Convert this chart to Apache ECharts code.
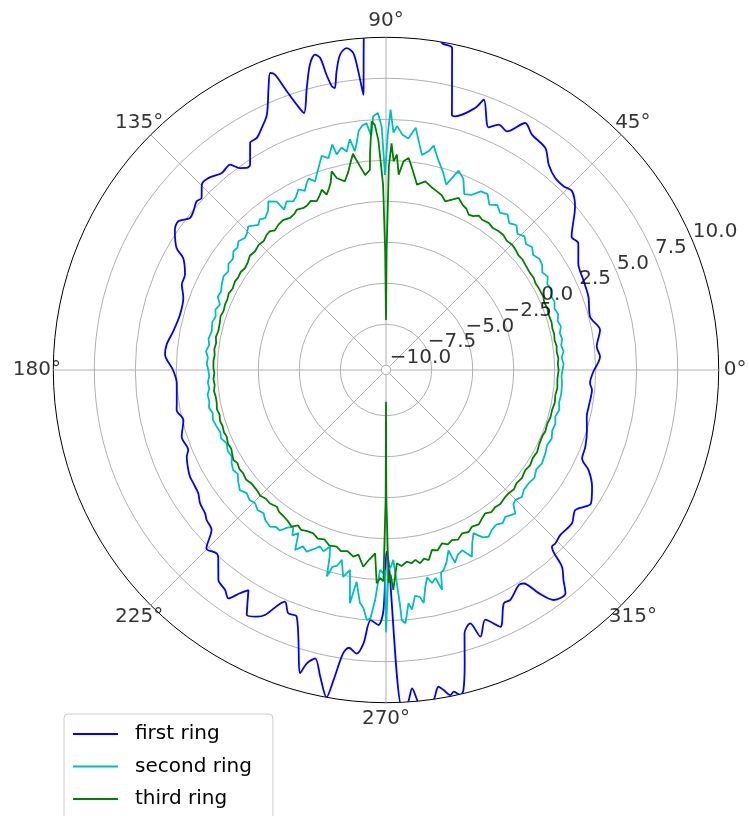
<!DOCTYPE html>
<html>
<head>
<meta charset="utf-8">
<title>Ring gain pattern</title>
<script src="https://cdn.jsdelivr.net/npm/echarts@6/dist/echarts.min.js"></script>
<style>
  html, body { margin: 0; padding: 0; background: #ffffff; }
  #chart { width: 749px; height: 816px; }
</style>
</head>
<body>
<div id="chart"></div>
<script>
// Radial ticks and their printed labels (matplotlib-style unicode minus)
const radialTicks = [-10, -7.5, -5, -2.5, 0, 2.5, 5, 7.5, 10];
const radialTickLabels = ['\u221210.0', '\u22127.5', '\u22125.0', '\u22122.5', '0.0', '2.5', '5.0', '7.5', '10.0'];
const angleTicks = [0, 45, 90, 135, 180, 225, 270, 315];
const angleTickLabels = ['0\u00b0', '45\u00b0', '90\u00b0', '135\u00b0', '180\u00b0', '225\u00b0', '270\u00b0', '315\u00b0'];
const seriesNames = ['first ring', 'second ring', 'third ring'];

// first ring: angle (deg) and level
const firstRingDeg = [0, 3.6, 6.3, 10.6, 14.6, 19.9, 24.5, 29.0, 33.4, 35.7, 40.8, 43.9, 45.9, 48.6, 51.6, 54.3, 58.2, 60.6, 63.1, 65.3,
  67.1, 70.1, 71.2, 74.7, 75.5, 76.5, 77.5, 78.4, 80.3, 82, 86, 90, 93, 93.8, 94.7, 95.3, 95.9, 97.0, 98.3, 99.4,
  100.3, 100.8, 101.4, 101.9, 102.7, 104.0, 105.7, 107.7, 108.6, 109.9, 110.6, 111.3, 112.6, 115.0, 117.2, 119.1, 120.9, 123.5, 124.6, 125.9,
  127.2, 129.8, 132.8, 134.8, 137.0, 138.3, 140.5, 142.2, 144.4, 146.4, 149.8, 151.1, 154.6, 157.3, 160.4, 165.0, 169.7, 173.4, 176.0, 180.0,
  183.6, 189.0, 190.8, 193.9, 198.1, 202.0, 203.5, 206.8, 208.6, 210.5, 213.3, 215.6, 218.4, 219.9, 222.5, 224.8, 227.3, 228.3, 231.4, 232.1,
  233.8, 235.4, 236.8, 238.0, 240.4, 242.3, 243.7, 246.4, 248.1, 250.1, 254.2, 254.9, 256.2, 257.9, 259.7, 260.4, 261.4, 262.4, 264.1, 265.3,
  266.5, 268.3, 269.4, 270.2, 272.7, 273.7, 274.7, 275.6, 276.8, 278.2, 279.4, 280.2, 281.2, 281.9, 282.9, 283.6, 285.0, 286.6, 288.4, 289.5,
  291.7, 294.0, 296.8, 298.4, 301.7, 302.8, 304.4, 306.1, 308.8, 310.2, 311.8, 313.2, 314.3, 316.6, 320.5, 323.5, 326.9, 330.5, 333.7, 335.7,
  338.9, 343.4, 346.9, 349.7, 354.5, 356.3, 360];
const firstRingDb = [2.40, 2.79, 2.64, 2.99, 2.57, 2.84, 2.94, 3.12, 3.76, 3.65, 4.94, 5.45, 5.30, 5.32, 5.69, 6.37, 6.60, 7.00, 6.03, 6.18,
  5.78, 7.24, 6.59, 5.75, 5.77, 6.95, 8.31, 9.76, 9.95, 11.0, 12.5, 13.0, 11.5, 10.1, 6.55, 8.0, 9.15, 9.49, 9.14, 8.17,
  7.19, 7.32, 8.08, 9.16, 9.42, 8.9, 7.57, 6.16, 6.79, 8.11, 8.95, 9.15, 8.35, 6.9, 6.3, 5.91, 5.85, 4.73, 4.68, 4.91,
  5.44, 5.35, 5.66, 5.65, 5.09, 5.18, 4.93, 4.84, 5.29, 5.17, 4.49, 3.84, 3.28, 3.21, 2.83, 2.72, 2.90, 3.18, 3.22, 2.70,
  2.50, 2.63, 2.71, 2.44, 2.82, 2.72, 2.96, 3.22, 3.32, 3.34, 3.41, 3.66, 3.79, 3.97, 4.14, 5.15, 4.93, 5.09, 6.10, 6.20,
  6.33, 6.63, 5.98, 5.54, 6.90, 6.70, 6.38, 5.12, 5.70, 5.71, 8.92, 8.24, 7.82, 8.84, 10.0, 8.88, 7.18, 6.8, 7.1, 6.44,
  4.99, 5.27, 4.35, 0.80, 10.3, 10.1, 9.20, 10.1, 10.4, 10.05, 9.29, 9.54, 9.92, 9.76, 10.04, 9.79, 8.25, 6.47, 6.00, 6.96,
  6.10, 6.85, 5.65, 5.65, 5.12, 5.20, 6.20, 7.07, 7.18, 6.48, 5.81, 4.49, 4.49, 4.35, 4.41, 4.07, 4.63, 4.15, 3.49, 2.83,
  2.74, 2.50, 2.28, 2.27, 2.33, 2.18, 2.40];

// second ring
const secondRingDeg = [0, 2, 4, 6, 8, 10, 12, 14, 16, 18, 20, 22, 24, 26, 28, 30, 32, 34, 36, 38,
  40, 42, 44, 46, 48, 50, 52, 54, 56, 58, 60, 62, 64, 66, 68, 70, 72, 74, 76, 78,
  79, 80.5, 82, 83, 84.5, 86, 87.4, 88.2, 89, 89.6, 90.3, 91, 91.8, 92.9, 93.6, 94.5, 95.5, 96.5, 97.4, 98.1,
  98.9, 100.2, 101.3, 102.9, 103.4, 105.2, 106.7, 108.5, 110.6, 112, 113, 114.4, 115.9, 117.5, 118.8, 120.5, 122.4, 123, 124.9, 126.5,
  128.5, 130, 131.3, 133.8, 135.5, 136.9, 138.9, 140.5, 142.1, 144, 146, 148, 150, 152.6, 154.5, 156.5, 158.5, 160.5, 162.5, 164.5,
  167.5, 170, 172, 174, 176, 178, 180, 182, 184, 186, 188, 190, 192, 194, 196, 198.5, 200.5, 202.5, 204.7, 207,
  209.3, 211, 213.2, 215, 217, 219.4, 221.5, 223.5, 225.5, 227.5, 229.5, 231.1, 233.5, 235, 236.5, 238, 239.4, 240.5, 241.8, 243.2,
  244.8, 246.4, 248, 249.5, 251, 252.4, 253.2, 254, 254.8, 256, 256.9, 258.3, 259.8, 261.2, 262.1, 263.6, 264.6, 265.6, 266.4, 267.3,
  268.3, 269.2, 269.7, 270, 270.7, 271.5, 272.2, 273.4, 273.6, 274.4, 275.5, 276.2, 277.3, 278.5, 279.2, 280.2, 281.2, 282.2, 283.4, 284.3,
  285.2, 286.1, 287.5, 289.1, 289.7, 291.2, 292.9, 294.7, 296.5, 298.2, 300, 301.6, 303.5, 305.5, 307.3, 309.1, 312, 313.5, 314.8, 317,
  319, 321.6, 324, 326.5, 329, 332.4, 335, 337.5, 340, 342.3, 344.6, 347, 349.5, 352, 355.7, 358, 360];
const secondRingDb = [0.48, 0.55, 0.45, 0.6, 0.5, 0.62, 0.55, 0.7, 0.6, 0.75, 0.65, 0.8, 0.75, 0.95, 0.85, 1.1, 0.95, 1.2, 1.26, 1.1,
  1.35, 1.2, 1.45, 1.25, 1.6, 1.4, 1.75, 1.55, 1.85, 1.6, 2.1, 2.05, 1.6, 1.45, 2.3, 2.65, 1.6, 2.3, 2.9, 3.7,
  3.3, 3.0, 3.9, 4.6, 3.9, 4.1, 4.6, 4.2, 5.6, 4.0, 1.6, 4.5, 5.4, 5.2, 4.0, 4.8, 4.7, 4.4, 3.65, 3.2,
  3.95, 3.25, 3.55, 3.2, 3.85, 3.1, 3.35, 2.7, 2.0, 2.3, 2.1, 1.7, 1.95, 1.6, 1.45, 1.65, 1.3, 1.95, 2.25, 1.8,
  1.55, 1.7, 1.5, 1.85, 1.6, 1.5, 1.65, 1.45, 1.5, 1.25, 1.3, 1.05, 1.15, 1.0, 0.85, 0.9, 0.6, 0.75, 0.6, 0.7,
  0.6, 0.7, 0.6, 0.75, 0.6, 0.65, 0.55, 0.5, 0.6, 0.55, 0.7, 0.65, 0.75, 0.6, 0.7, 0.6, 0.5, 0.6, 0.41, 0.55,
  0.5, 0.7, 0.85, 0.75, 1.0, 1.25, 1.05, 1.2, 1.1, 1.3, 1.2, 1.45, 1.6, 1.4, 1.45, 1.05, 0.82, 1.3, 1.0, 2.0,
  1.6, 1.8, 1.5, 1.2, 1.4, 1.0, 1.6, 2.8, 2.15, 2.0, 1.6, 2.6, 2.1, 4.1, 2.75, 4.0, 4.3, 5.0, 4.9, 3.75,
  1.9, 2.1, 1.9, 5.7, 1.9, 1.7, 1.3, 4.0, 5.0, 5.2, 4.0, 4.4, 3.6, 3.7, 4.1, 3.2, 2.6, 3.0, 2.75, 3.55,
  2.5, 2.4, 2.0, 1.35, 2.2, 1.8, 1.65, 2.25, 1.5, 1.0, 1.5, 1.65, 1.4, 1.3, 1.45, 1.25, 1.5, 1.0, 0.9, 1.05,
  0.85, 0.82, 0.9, 0.7, 0.8, 0.68, 0.55, 0.65, 0.5, 0.55, 0.42, 0.55, 0.45, 0.5, 0.48, 0.42, 0.48];

// third ring
const thirdRingDeg = [0, 2, 4, 6, 8, 10, 12, 14, 16, 18.8, 21, 23, 25, 28.2, 30, 32, 34, 37.1, 39, 41,
  43, 44.8, 47, 49, 50.9, 53, 55, 57.4, 59, 60.5, 62, 63.5, 65, 67.1, 68.8, 70.6, 72.3, 74.1, 76, 78.2,
  80.5, 81.5, 82.8, 83.9, 85.2, 86.3, 87.1, 87.9, 88.6, 89.2, 89.7, 90, 90.4, 90.9, 91.9, 92.6, 93.3, 94.2, 94.6, 96.1,
  97.2, 98.7, 100.0, 100.7, 102.3, 104.4, 105.3, 106.5, 107.5, 108.7, 109.6, 110.8, 112.3, 114, 115.5, 117, 119, 120.5, 122.3, 124.5,
  126.5, 128.5, 130, 131.4, 133.5, 135.5, 137.8, 140, 142, 144.1, 146, 148, 149.6, 152, 154, 156, 157.9, 160, 162, 164,
  167, 169, 171, 173, 175, 177, 179.3, 181, 183, 185, 187, 189, 191.1, 193, 195, 197, 199, 201, 202.7, 205,
  207, 209, 210.5, 212, 214, 215.9, 218, 220, 222.9, 225, 227, 229, 231.4, 233, 235, 237, 238.9, 240.5, 242, 244,
  246, 248, 250, 252, 254.4, 256, 258, 260.1, 261.5, 263.4, 265, 266.6, 267.5, 268.4, 269.3, 269.85, 270, 270.15, 270.7, 271.3,
  271.9, 273.2, 274.5, 276.2, 277.5, 278.8, 280, 281.4, 282.7, 284.3, 286, 287.9, 289.5, 291.2, 293, 295, 297, 298.8, 301, 302.8,
  304.7, 306.5, 308.5, 310.5, 312.7, 314.9, 317, 319, 321.5, 324.3, 326.5, 329, 331.5, 334, 336.9, 339, 341.5, 344, 346.5, 349,
  351.5, 354, 357, 360];
const thirdRingDb = [0.24, 0.2, 0.25, 0.18, 0.22, 0.15, 0.2, 0.17, 0.22, 0.19, 0.25, 0.2, 0.3, 0.28, 0.25, 0.33, 0.3, 0.36, 0.42, 0.4,
  0.5, 0.55, 0.5, 0.62, 0.61, 0.55, 0.65, 0.59, 0.7, 0.5, 0.45, 0.7, 0.8, 1.1, 0.85, 0.61, 0.9, 1.04, 1.2, 1.46,
  1.17, 1.6, 2.2, 2.71, 2.48, 1.65, 2.86, 2.44, 3.54, 2.1, -3.0, -7.24, -3.0, 1.0, 3.74, 4.66, 4.9, 3.0, 1.95, 1.67,
  2.2, 3.05, 2.4, 2.04, 1.49, 1.8, 2.27, 1.6, 1.3, 1.0, 1.38, 1.1, 0.84, 1.0, 0.85, 0.8, 0.9, 0.75, 0.68, 0.8,
  0.74, 0.6, 0.75, 0.71, 0.55, 0.6, 0.49, 0.55, 0.4, 0.32, 0.4, 0.35, 0.39, 0.3, 0.38, 0.3, 0.31, 0.25, 0.32, 0.25,
  0.21, 0.28, 0.2, 0.26, 0.2, 0.25, 0.24, 0.18, 0.25, 0.2, 0.28, 0.22, 0.23, 0.3, 0.22, 0.3, 0.25, 0.3, 0.24, 0.35,
  0.3, 0.42, 0.52, 0.4, 0.5, 0.46, 0.55, 0.45, 0.47, 0.55, 0.45, 0.5, 0.38, 0.55, 0.6, 0.7, 0.87, 0.6, 0.75, 0.65,
  0.62, 0.8, 0.7, 0.95, 0.9, 1.1, 1.0, 1.27, 1.1, 1.79, 1.3, 0.91, 2.73, 2.4, 2.6, -2.5, -8.35, -2.5, 2.7, 2.2,
  3.13, 1.52, 1.7, 1.47, 1.6, 1.43, 1.68, 1.45, 1.59, 1.04, 1.15, 0.82, 1.0, 0.84, 0.95, 0.7, 0.8, 0.61, 0.7, 0.5,
  0.34, 0.5, 0.4, 0.45, 0.35, 0.32, 0.38, 0.25, 0.3, 0.17, 0.25, 0.15, 0.2, 0.1, 0.06, 0.12, 0.08, 0.15, 0.13, 0.2,
  0.15, 0.22, 0.18, 0.24];

const FONT = 'DejaVu Sans';
const pair = (deg, db) => deg.map((d, i) => [db[i], d]);

const chart = echarts.init(document.getElementById('chart'), null, { renderer: 'canvas' });

const gridGray = '#b0b0b0';
// radial grid circles are gray; the last one (at the maximum) forms the black outer frame
const ringColors = radialTicks.map((v, i) => (i === radialTicks.length - 1 ? '#000000' : gridGray));

const lineSeries = (name, deg, db, color, smooth) => ({
  name: name,
  type: 'line',
  coordinateSystem: 'polar',
  data: pair(deg, db),
  showSymbol: false,
  symbol: 'none',
  smooth: smooth,
  clip: true,
  lineStyle: { color: color, width: 1.8 },
  itemStyle: { color: color },
  z: 3
});

chart.setOption({
  animation: false,
  backgroundColor: '#ffffff',
  textStyle: { fontFamily: FONT },
  polar: {
    center: [386, 370],
    radius: [4.7, 332.7]
  },
  angleAxis: {
    type: 'value',
    min: 0,
    max: 360,
    interval: 45,
    startAngle: 0,
    clockwise: false,
    axisLine: { show: false },
    axisTick: { show: false },
    axisLabel: { show: false },
    splitLine: { show: true, lineStyle: { color: gridGray, width: 1 } }
  },
  radiusAxis: {
    type: 'value',
    min: -10,
    max: 10,
    interval: 2.5,
    axisLine: { show: false },
    axisTick: { show: false },
    axisLabel: { show: false },
    splitLine: { show: true, lineStyle: { color: ringColors, width: 1 } }
  },
  legend: {
    data: seriesNames,
    orient: 'vertical',
    left: 64,
    top: 714,
    height: 160,
    padding: [10, 21, 20, 9],
    itemGap: 12.5,
    itemWidth: 45,
    itemHeight: 2,
    icon: 'rect',
    backgroundColor: 'rgba(255,255,255,0.8)',
    borderColor: '#cccccc',
    borderWidth: 1,
    borderRadius: 4,
    textStyle: { fontFamily: FONT, fontSize: 20, color: '#000000', padding: [0, 0, 0, 12] }
  },
  series: [
    lineSeries(seriesNames[0], firstRingDeg, firstRingDb, '#0000ff', 0.3),
    lineSeries(seriesNames[1], secondRingDeg, secondRingDb, '#00bfbf', false),
    lineSeries(seriesNames[2], thirdRingDeg, thirdRingDb, '#008000', false),
    {
      // radial tick labels along the 22.5 degree ray
      type: 'scatter',
      coordinateSystem: 'polar',
      silent: true,
      clip: false,
      symbolSize: 1,
      itemStyle: { color: 'transparent' },
      data: radialTicks.map(v => [v, 22.5]),
      label: {
        show: true,
        position: [0, 0],
        align: 'left',
        verticalAlign: 'bottom',
        formatter: p => radialTickLabels[p.dataIndex],
        fontFamily: FONT,
        fontSize: 20,
        color: '#000000'
      },
      z: 10
    },
    {
      // angle tick labels just outside the frame
      type: 'scatter',
      coordinateSystem: 'polar',
      silent: true,
      clip: false,
      symbolSize: 1,
      itemStyle: { color: 'transparent' },
      data: angleTicks.map(a => [11.0, a]),
      label: {
        show: true,
        position: 'inside',
        align: 'center',
        verticalAlign: 'middle',
        formatter: p => angleTickLabels[p.dataIndex],
        fontFamily: FONT,
        fontSize: 20,
        color: '#000000'
      },
      z: 10
    }
  ]
});
</script>
</body>
</html>
